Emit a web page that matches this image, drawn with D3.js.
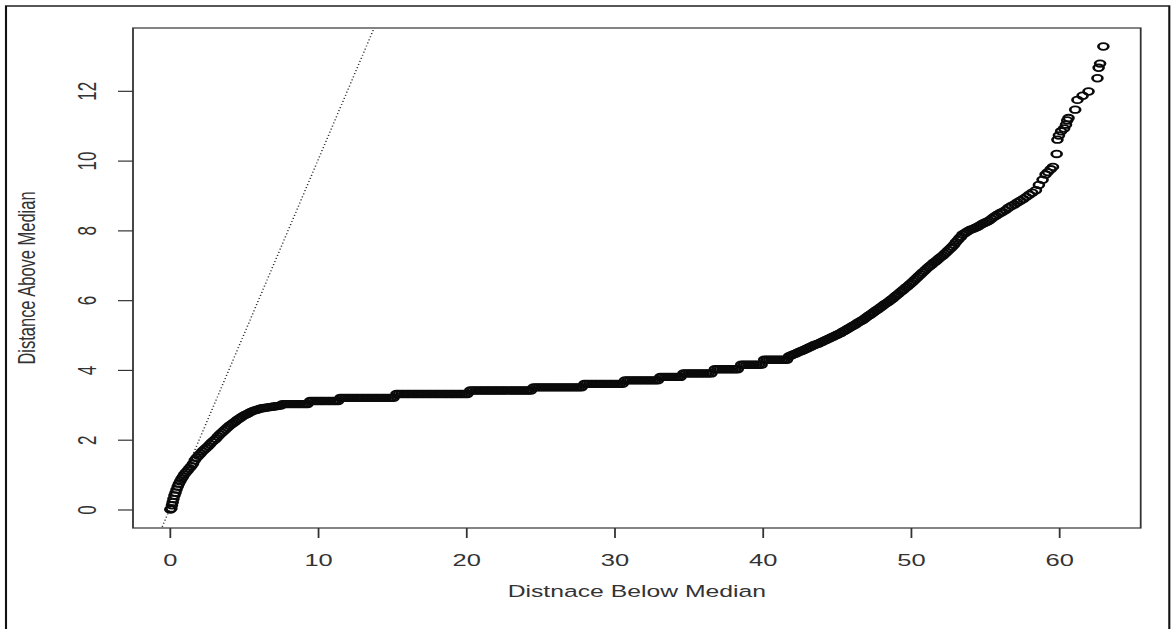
<!DOCTYPE html>
<html>
<head>
<meta charset="utf-8">
<script src="https://cdn.jsdelivr.net/npm/d3@7"></script>
<style>
  html, body { margin: 0; padding: 0; background: #fff; }
  svg { display: block; }
</style>
</head>
<body>
<svg id="chart" width="1171" height="629"></svg>
<script>
// Symmetry plot: each point pairs the i-th distance below the median
// with the i-th distance above it.

// steep start near the median
const riseBelow = [0.05, 0.12, 0.16, 0.21, 0.26, 0.33, 0.40, 0.47, 0.55, 0.63, 0.72, 0.81, 0.90, 0.99,
  1.10, 1.22, 1.34, 1.46, 1.58, 1.70, 1.82, 1.95, 2.08, 2.21, 2.34, 2.47, 2.60, 2.73, 2.86, 3.00,
  3.13, 3.26, 3.39, 3.52, 3.65, 3.78, 3.91, 4.04, 4.17, 4.30, 4.44, 4.58, 4.72, 4.86, 5.00, 5.15,
  5.30, 5.45, 5.60, 5.75, 5.90, 6.06, 6.22, 6.38, 6.54, 6.70, 6.86, 7.02, 7.18, 7.34, 7.50];
const riseAbove = [0.00, 0.03, 0.12, 0.21, 0.30, 0.40, 0.48, 0.57, 0.66, 0.74, 0.81, 0.88, 0.94, 1.00,
  1.06, 1.12, 1.18, 1.24, 1.31, 1.41, 1.48, 1.54, 1.60, 1.66, 1.71, 1.76, 1.81, 1.87, 1.93, 1.98,
  2.03, 2.09, 2.15, 2.20, 2.25, 2.30, 2.35, 2.40, 2.44, 2.48, 2.52, 2.57, 2.61, 2.65, 2.69, 2.72,
  2.75, 2.79, 2.82, 2.84, 2.86, 2.88, 2.90, 2.91, 2.92, 2.93, 2.94, 2.95, 2.96, 2.97, 2.98];

// long plateau: repeated values above the median, each with its run of distances below
const plateauAbove = [3.02, 3.11, 3.20, 3.31, 3.41, 3.50, 3.60, 3.70, 3.80, 3.90, 4.02, 4.15, 4.29];
const plateauBelow = [
  [7.62, 7.80, 7.95, 8.13, 8.29, 8.47, 8.64, 8.80, 8.98, 9.15, 9.31],
  [9.49, 9.66, 9.84, 10.00, 10.18, 10.33, 10.51, 10.69, 10.85, 11.03, 11.19, 11.37],
  [11.54, 11.70, 11.88, 12.05, 12.21, 12.39, 12.56, 12.72, 12.90, 13.06, 13.24, 13.41, 13.57, 13.75,
   13.92, 14.08, 14.26, 14.43, 14.59, 14.77, 14.94, 15.11],
  [15.31, 15.48, 15.66, 15.83, 16.01, 16.17, 16.35, 16.52, 16.68, 16.86, 17.03, 17.19, 17.37, 17.54,
   17.70, 17.88, 18.05, 18.21, 18.39, 18.56, 18.72, 18.90, 19.07, 19.23, 19.41, 19.58, 19.74, 19.92, 20.09],
  [20.29, 20.46, 20.64, 20.81, 20.99, 21.15, 21.33, 21.50, 21.66, 21.84, 22.01, 22.17, 22.35, 22.52,
   22.68, 22.86, 23.03, 23.19, 23.37, 23.54, 23.70, 23.88, 24.05, 24.21, 24.38],
  [24.56, 24.73, 24.90, 25.07, 25.24, 25.41, 25.58, 25.75, 25.92, 26.09, 26.26, 26.43, 26.60, 26.77,
   26.94, 27.11, 27.28, 27.45, 27.62, 27.80],
  [27.99, 28.16, 28.34, 28.51, 28.69, 28.85, 29.03, 29.20, 29.36, 29.54, 29.71, 29.87, 30.05, 30.22,
   30.38, 30.56],
  [30.73, 30.90, 31.07, 31.24, 31.41, 31.58, 31.75, 31.92, 32.09, 32.26, 32.43, 32.60, 32.77, 32.94],
  [33.11, 33.28, 33.45, 33.62, 33.79, 33.96, 34.13, 34.30, 34.47],
  [34.67, 34.84, 35.01, 35.18, 35.35, 35.52, 35.69, 35.86, 36.03, 36.20, 36.37, 36.55],
  [36.79, 36.96, 37.13, 37.30, 37.47, 37.64, 37.81, 37.98, 38.15, 38.33],
  [38.57, 38.74, 38.91, 39.08, 39.25, 39.42, 39.59, 39.76, 39.94],
  [40.12, 40.29, 40.46, 40.63, 40.80, 40.97, 41.14, 41.31, 41.48, 41.65]
];

// upward bend after the plateau
const bendBelow = [41.80, 41.93, 42.05, 42.18, 42.30, 42.43, 42.55, 42.68, 42.80, 42.93, 43.05, 43.18,
  43.30, 43.43, 43.55, 43.68, 43.80, 43.93, 44.05, 44.18, 44.30, 44.43, 44.55, 44.68, 44.80, 44.93,
  45.05, 45.18, 45.30, 45.43, 45.55, 45.68, 45.80, 45.93, 46.05, 46.18, 46.30, 46.43, 46.55, 46.68,
  46.80, 46.93, 47.05, 47.18, 47.30, 47.43, 47.55, 47.68, 47.80, 47.93, 48.05, 48.18, 48.30, 48.43,
  48.55, 48.68, 48.80, 48.93, 49.05, 49.18, 49.30, 49.43, 49.55, 49.68, 49.80, 49.93, 50.05, 50.18,
  50.30, 50.43, 50.55, 50.68, 50.80, 50.93, 51.05, 51.18, 51.30, 51.43, 51.55, 51.68, 51.80, 51.93,
  52.05, 52.18, 52.30, 52.43, 52.55, 52.68, 52.80, 52.93, 53.05, 53.18, 53.30, 53.40];
const bendAbove = [4.39, 4.41, 4.44, 4.46, 4.48, 4.51, 4.53, 4.55, 4.57, 4.60, 4.62, 4.65,
  4.67, 4.70, 4.72, 4.74, 4.76, 4.79, 4.81, 4.84, 4.86, 4.89, 4.91, 4.94, 4.96, 4.99,
  5.01, 5.04, 5.06, 5.10, 5.12, 5.16, 5.19, 5.22, 5.25, 5.28, 5.31, 5.35, 5.38, 5.41,
  5.44, 5.48, 5.52, 5.56, 5.59, 5.63, 5.67, 5.71, 5.74, 5.78, 5.82, 5.86, 5.90, 5.93,
  5.97, 6.01, 6.05, 6.10, 6.14, 6.18, 6.23, 6.27, 6.31, 6.36, 6.40, 6.45, 6.49, 6.54,
  6.59, 6.64, 6.69, 6.74, 6.79, 6.84, 6.89, 6.94, 6.98, 7.02, 7.07, 7.11, 7.15, 7.20,
  7.24, 7.28, 7.33, 7.38, 7.43, 7.48, 7.53, 7.59, 7.66, 7.72, 7.78, 7.82];

// sparse upper tail
const tailBelow = [53.50, 53.65, 53.80, 53.95, 54.10, 54.25, 54.40, 54.55, 54.70, 54.85, 55.00, 55.15,
  55.30, 55.45, 55.60, 55.75, 55.90, 56.05, 56.20, 56.40, 56.60, 56.80, 57.00, 57.20, 57.40,
  57.60, 57.80, 58.00, 58.20, 58.45, 58.65, 58.90, 59.10, 59.25, 59.45, 59.60, 59.85, 59.90, 60.00,
  60.15, 60.35, 60.48, 60.56, 60.65, 61.10, 61.25, 61.60, 62.00, 62.60, 62.68, 62.78, 63.00];
const tailAbove = [7.88, 7.92, 7.96, 8.00, 8.03, 8.05, 8.08, 8.11, 8.15, 8.19, 8.22, 8.25,
  8.28, 8.33, 8.38, 8.42, 8.46, 8.50, 8.53, 8.58, 8.65, 8.70, 8.74, 8.80, 8.85,
  8.90, 8.96, 9.02, 9.08, 9.15, 9.30, 9.45, 9.60, 9.67, 9.75, 9.82, 10.19, 10.60, 10.72,
  10.84, 10.92, 11.03, 11.15, 11.22, 11.46, 11.74, 11.86, 11.98, 12.36, 12.66, 12.78, 13.27];

const xTicks = [0, 10, 20, 30, 40, 50, 60];
const yTicks = [0, 2, 4, 6, 8, 10, 12];
const xTitle = "Distnace Below Median";
const yTitle = "Distance Above Median";

// ---- assemble points ----
const points = [];
riseBelow.forEach((b, i) => points.push({ below: b, above: riseAbove[i] }));
plateauAbove.forEach((a, k) => plateauBelow[k].forEach(b => points.push({ below: b, above: a })));
bendBelow.forEach((b, i) => points.push({ below: b, above: bendAbove[i] }));
tailBelow.forEach((b, i) => points.push({ below: b, above: tailAbove[i] }));

// ---- layout (drawing is stretched horizontally, as in the original device) ----
const SX = 1.5;
const W = 1171 / SX, H = 629;
const svg = d3.select("#chart")
  .attr("viewBox", `0 0 ${W} ${H}`)
  .attr("preserveAspectRatio", "none");

const box = { left: 133 / SX, right: 1140.7 / SX, top: 28, bottom: 528 };
const font = "'Liberation Sans', Arial, Helvetica, sans-serif";
const ink = "#333";

// R-style 4% padding around the data range
function padded(ext) {
  const r = ext[1] - ext[0];
  return [ext[0] - 0.04 * r, ext[1] + 0.04 * r];
}
const x = d3.scaleLinear().domain(padded(d3.extent(points, d => d.below))).range([box.left, box.right]);
const y = d3.scaleLinear().domain(padded(d3.extent(points, d => d.above))).range([box.bottom, box.top]);

// outer frame
svg.append("rect")
  .attr("x", 6 / SX).attr("y", 6)
  .attr("width", (1169.3 - 6) / SX).attr("height", 700)
  .attr("fill", "none").attr("stroke", "#111").attr("stroke-width", 1.4);

svg.append("clipPath").attr("id", "plotClip")
  .append("rect")
  .attr("x", box.left).attr("y", box.top)
  .attr("width", box.right - box.left).attr("height", box.bottom - box.top);

// reference line y = x
const xd = x.domain();
svg.append("path")
  .attr("clip-path", "url(#plotClip)")
  .attr("d", d3.line().x(d => x(d)).y(d => y(d))([xd[0] - 5, xd[1] + 5]))
  .attr("fill", "none").attr("stroke", "#222")
  .attr("stroke-width", 1).attr("stroke-dasharray", "1,2.2");

// points (open circles)
svg.append("g")
  .selectAll("circle").data(points).join("circle")
  .attr("cx", d => x(d.below)).attr("cy", d => y(d.above))
  .attr("r", 3.3)
  .attr("fill", "none").attr("stroke", "#0a0a0a").attr("stroke-width", 1.8);

// plot box
svg.append("rect")
  .attr("x", box.left).attr("y", box.top)
  .attr("width", box.right - box.left).attr("height", box.bottom - box.top)
  .attr("fill", "none").attr("stroke", ink).attr("stroke-width", 1.2);

// x axis
const xAxis = svg.append("g").attr("transform", `translate(0,${box.bottom})`)
  .call(d3.axisBottom(x).tickValues(xTicks).tickSize(10).tickPadding(0).tickFormat(d3.format("d")));
xAxis.select(".domain").remove();
xAxis.selectAll("line").attr("stroke", ink).attr("stroke-width", 1.2);
xAxis.selectAll("text").attr("y", 38).attr("dy", 0)
  .attr("fill", ink).attr("font-family", font).attr("font-size", 17);

// y axis (labels parallel to the axis)
const yAxis = svg.append("g").attr("transform", `translate(${box.left},0)`)
  .call(d3.axisLeft(y).tickValues(yTicks).tickSize(10).tickFormat(d3.format("d")));
yAxis.select(".domain").remove();
yAxis.selectAll("line").attr("stroke", ink).attr("stroke-width", 1.2);
yAxis.selectAll("text")
  .attr("x", null).attr("dy", null)
  .attr("transform", `translate(${64 - box.left},0) rotate(-90)`)
  .attr("text-anchor", "middle")
  .attr("fill", ink).attr("font-family", font).attr("font-size", 17);

// axis titles
svg.append("text")
  .attr("x", (box.left + box.right) / 2).attr("y", 597)
  .attr("text-anchor", "middle")
  .attr("fill", ink).attr("font-family", font).attr("font-size", 16.5)
  .text(xTitle);
svg.append("text")
  .attr("transform", `translate(23,${(box.top + box.bottom) / 2}) rotate(-90)`)
  .attr("text-anchor", "middle")
  .attr("fill", ink).attr("font-family", font).attr("font-size", 16.5)
  .text(yTitle);
</script>
</body>
</html>
